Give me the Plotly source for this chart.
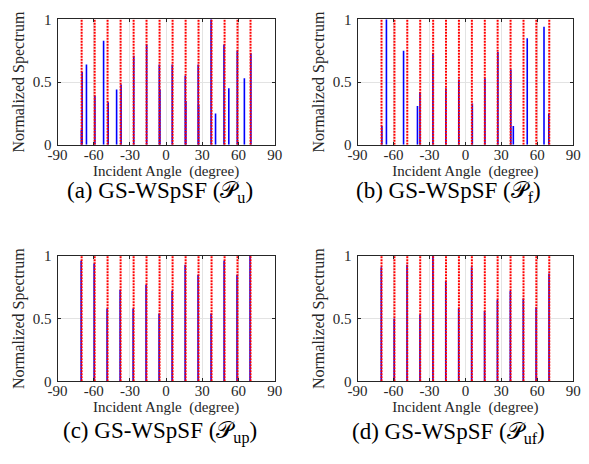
import plotly.graph_objects as go

# ---------------- data ----------------
true_angles = [-70.0, -59.2, -48.5, -37.7, -26.9, -16.2, -5.4, 5.4, 16.2, 26.9, 37.7, 48.5, 59.2, 70.0]

angles_a = [-70.2, -69.6, -66.0, -59.0, -51.8, -48.0, -41.0, -37.3, -26.8, -16.1, -5.6, -5.1,
            5.1, 15.9, 16.4, 26.6, 27.0, 37.3, 41.0, 48.0, 52.0, 59.0, 64.9, 70.3]
heights_a = [0.12, 0.58, 0.64, 0.39, 0.83, 0.34, 0.44, 0.48, 0.71, 0.80, 0.64, 0.44,
             0.64, 0.55, 0.35, 0.64, 0.32, 1.0, 0.25, 0.80, 0.45, 0.75, 0.53, 0.73]

angles_b = [-69.7, -65.9, -51.6, -40.0, -37.9, -27.1, -16.3, -5.5, 5.8, 16.3, 27.1, 37.9, 40.0, 51.6, 65.6, 69.6]
heights_b = [0.15, 1.0, 0.75, 0.31, 0.42, 0.73, 0.45, 0.52, 0.33, 0.53, 0.74, 0.60, 0.15, 0.85, 0.94, 0.25]

angles_c = [-70.4, -59.6, -48.9, -38.1, -27.3, -16.6, -5.8, 5.0, 15.8, 26.5, 37.3, 48.1, 58.8, 69.6]
heights_c = [0.96, 0.94, 0.58, 0.73, 0.58, 0.77, 0.54, 0.72, 0.93, 0.85, 0.54, 0.96, 0.85, 1.0]

angles_d = [-70.2, -59.4, -48.7, -37.9, -27.1, -16.4, -5.6, 5.2, 16.0, 26.7, 37.5, 48.3, 59.0, 69.8]
heights_d = [0.91, 0.50, 0.93, 0.53, 1.0, 0.80, 0.58, 0.91, 0.56, 0.65, 0.72, 0.66, 0.59, 0.86]

x_ticks = [-90, -60, -30, 0, 30, 60, 90]
x_tick_labels = ["-90", "-60", "-30", "0", "30", "60", "90"]
y_ticks = [0, 0.5, 1]
y_tick_labels = ["0", "0.5", "1"]

captions = [
    "(a) GS-WSpSF (𝒫<sub>u</sub>)",
    "(b) GS-WSpSF (𝒫<sub>f</sub>)",
    "(c) GS-WSpSF (𝒫<sub>up</sub>)",
    "(d) GS-WSpSF (𝒫<sub>uf</sub>)",
]
x_title = "Incident Angle  (degree)"
y_title = "Normalized Spectrum"

# ---------------- figure ----------------
W, H = 589, 464
FONT = "Liberation Serif"


def stems(xs, ys):
    sx, sy = [], []
    for x, y in zip(xs, ys):
        sx += [x, x, None]
        sy += [0, y, None]
    return sx, sy


panels = [
    (angles_a, heights_a),
    (angles_b, heights_b),
    (angles_c, heights_c),
    (angles_d, heights_d),
]

xdoms = [[49 / W, 273 / W], [358.5 / W, 581 / W]]
ydoms = [[1 - 141.7 / H, 1 - 11.7 / H], [1 - 386.7 / H, 1 - 256.7 / H]]
caption_x_px = [155, 452]
caption_y_px = [191, 440]

fig = go.Figure()
layout = dict(
    width=W, height=H, margin=dict(l=0, r=0, t=0, b=0),
    paper_bgcolor="white", plot_bgcolor="white", showlegend=False,
    font=dict(family=FONT, size=15, color="#262626"),
)
annotations = []

for i, (ang, hts) in enumerate(panels):
    n = i + 1
    xa = "x" if n == 1 else f"x{n}"
    ya = "y" if n == 1 else f"y{n}"
    sx, sy = stems(ang, hts)
    fig.add_trace(go.Scatter(x=sx, y=sy, mode="lines", xaxis=xa, yaxis=ya,
                             line=dict(color="#0000ff", width=1.6), hoverinfo="skip"))
    rx, ry = stems(true_angles, [1] * len(true_angles))
    fig.add_trace(go.Scatter(x=rx, y=ry, mode="lines", xaxis=xa, yaxis=ya,
                             line=dict(color="#ff0000", width=2, dash="2px,1px"), hoverinfo="skip"))
    col = i % 2
    row = i // 2
    axis_common = dict(showline=True, linecolor="#262626", linewidth=1, mirror="ticks",
                       ticks="inside", ticklen=3, tickcolor="#262626",
                       showgrid=True, gridcolor="#e3e3e3", gridwidth=1, zeroline=False,
                       tickfont=dict(family=FONT, size=15, color="#262626"))
    layout["xaxis" if n == 1 else f"xaxis{n}"] = dict(
        domain=xdoms[col], anchor=ya, range=[-90, 90],
        tickmode="array", tickvals=x_ticks, ticktext=x_tick_labels, ticklabelstandoff=-4,
        title=dict(text=x_title, font=dict(family=FONT, size=15, color="#262626"), standoff=0),
        **axis_common)
    layout["yaxis" if n == 1 else f"yaxis{n}"] = dict(
        domain=ydoms[row], anchor=xa, range=[0, 1],
        tickmode="array", tickvals=y_ticks, ticktext=y_tick_labels, ticklabelstandoff=2,
        title=dict(text=y_title, font=dict(family=FONT, size=16, color="#262626"), standoff=4),
        **axis_common)
    annotations.append(dict(text=captions[i], x=caption_x_px[col] / W, y=1 - caption_y_px[row] / H,
                            xref="paper", yref="paper",
                            showarrow=False, xanchor="center", yanchor="middle",
                            font=dict(family=FONT, size=23, color="black")))

layout["annotations"] = annotations
fig.update_layout(**layout)
fig.write_html("out.html", config={"displayModeBar": False},
               post_script="document.body.style.margin='0';document.body.style.padding='0';")
